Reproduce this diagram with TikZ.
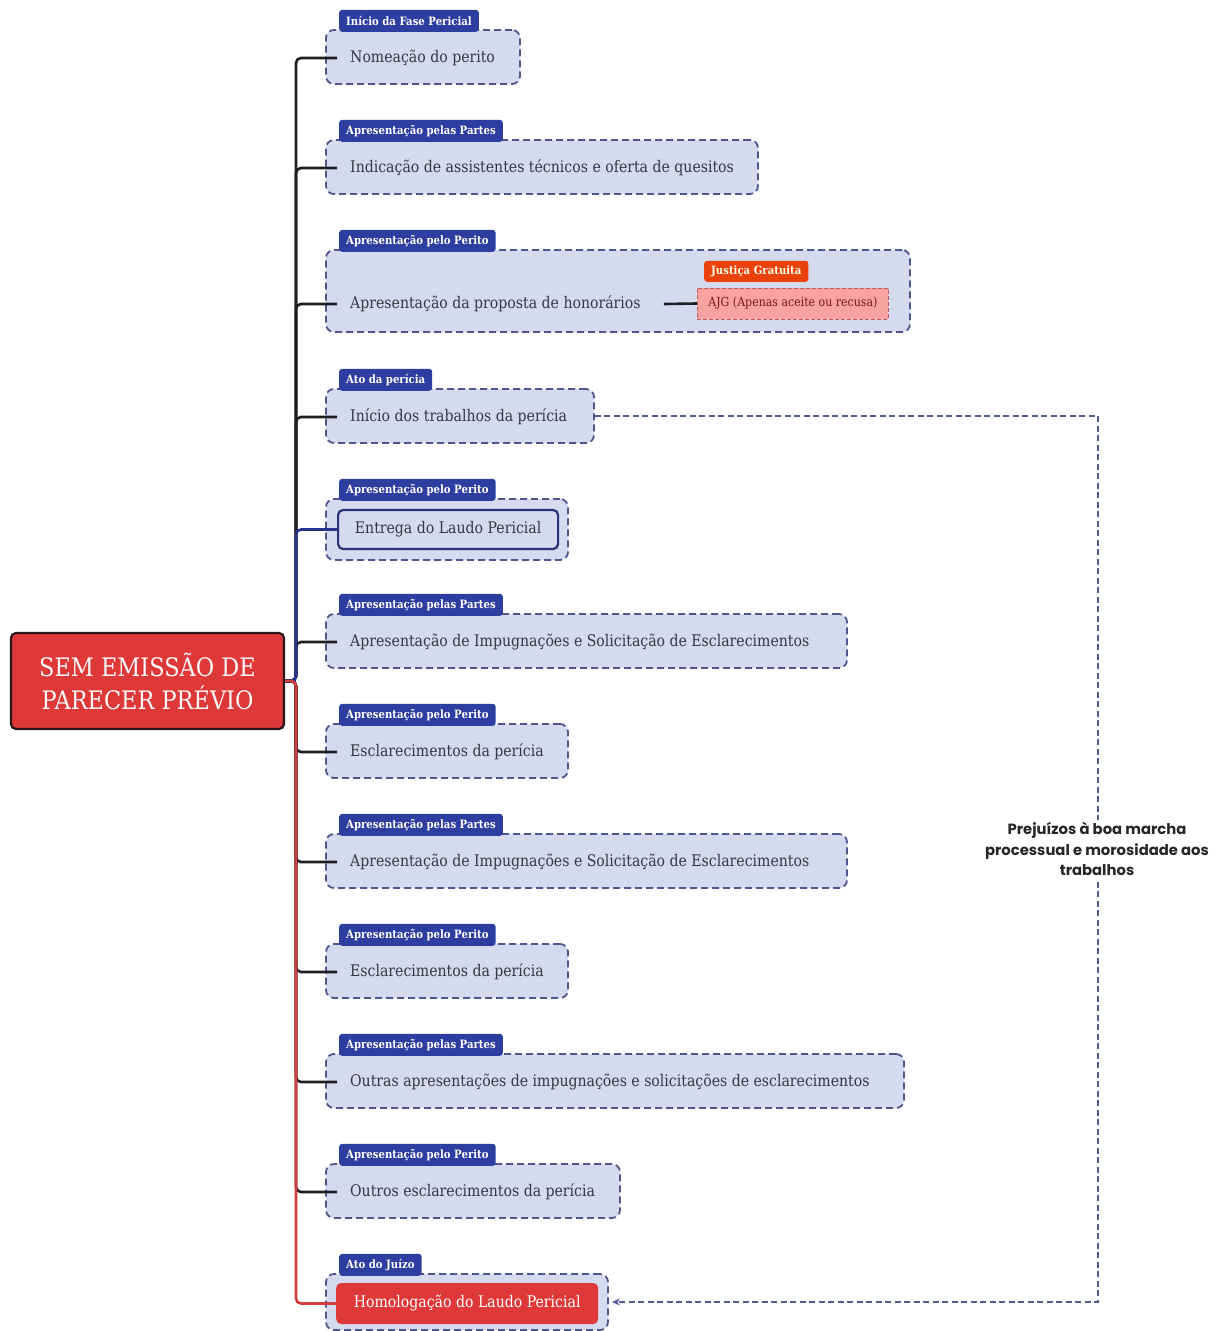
\documentclass[tikz,border=0pt]{standalone}
\usepackage{fontspec}
\setmainfont{DejaVu Serif}[FakeStretch=0.88]
\newfontfamily\popp{Poppins}
\usetikzlibrary{fit,arrows.meta}
\definecolor{boxfill}{RGB}{214,218,238}
\definecolor{boxline}{RGB}{78,86,140}
\definecolor{tagblue}{RGB}{45,62,160}
\definecolor{txtcol}{RGB}{55,55,65}
\definecolor{rootred}{RGB}{222,56,56}
\definecolor{rootborder}{RGB}{40,22,22}
\definecolor{brblack}{RGB}{30,30,34}
\definecolor{brblue}{RGB}{40,52,140}
\definecolor{brred}{RGB}{208,62,62}
\definecolor{navy}{RGB}{40,50,120}
\definecolor{jgorange}{RGB}{235,65,10}
\definecolor{ajgfill}{RGB}{248,162,162}
\definecolor{ajgline}{RGB}{190,90,90}
\definecolor{ajgtext}{RGB}{120,25,25}
\definecolor{fbline}{RGB}{80,92,150}
\newcommand\grp[7]{%
  \node[grpbox, fit={(326,#3) (#4,#5)}] (b#1) {};
  \node[tagnode] (tg#1) at (339,{#3+2}) {#2};
  \ifx&#7&\else\node[txt] (n#1) at (350,{#6+1}) {#7};\fi
}
\begin{document}
\begin{tikzpicture}[x=1pt,y=-1pt,
  grpbox/.style={draw=boxline, fill=boxfill, dash pattern=on 7pt off 4pt, line width=1.8pt, rounded corners=8pt, inner sep=0pt},
  tagnode/.style={fill=tagblue, text=white, font=\fontsize{11.5}{13}\selectfont\bfseries, rounded corners=3pt, inner xsep=7pt, inner ysep=0pt, minimum height=22pt, anchor=south west},
  txt/.style={text=txtcol, font=\fontsize{16}{18}\selectfont, inner sep=0pt, anchor=west},
  br/.style={line width=2.6pt, rounded corners=5pt, draw=brblack},
  fb/.style={draw=fbline, line width=1.8pt, dash pattern=on 6pt off 3.5pt},
]
\useasboundingbox (0,0) rectangle (1217,1331);

% groups
\grp{1}{Início da Fase Pericial}{30}{520}{84}{57}{Nomeação do perito}
\grp{2}{Apresentação pelas Partes}{140}{758}{194}{167}{Indicação de assistentes técnicos e oferta de quesitos}
\grp{3}{Apresentação pelo Perito}{250}{910}{332}{303}{Apresentação da proposta de honorários}
\grp{4}{Ato da perícia}{389}{594}{443}{416}{Início dos trabalhos da perícia}
\grp{5}{Apresentação pelo Perito}{499}{568}{560}{528}{}
\grp{6}{Apresentação pelas Partes}{614}{847}{668}{641}{Apresentação de Impugnações e Solicitação de Esclarecimentos}
\grp{7}{Apresentação pelo Perito}{724}{568}{778}{751}{Esclarecimentos da perícia}
\grp{8}{Apresentação pelas Partes}{834}{847}{888}{861}{Apresentação de Impugnações e Solicitação de Esclarecimentos}
\grp{9}{Apresentação pelo Perito}{944}{568}{998}{971}{Esclarecimentos da perícia}
\grp{10}{Apresentação pelas Partes}{1054}{904}{1108}{1081}{Outras apresentações de impugnações e solicitações de esclarecimentos}
\grp{11}{Apresentação pelo Perito}{1164}{620}{1218}{1191}{Outros esclarecimentos da perícia}
\grp{12}{Ato do Juízo}{1274}{608}{1330}{1303}{}

% inner boxes
\node[draw=navy, line width=2.2pt, fill=boxfill, rounded corners=5pt, minimum width=220pt, minimum height=39pt, anchor=west, text=txtcol, font=\fontsize{16}{18}\selectfont, inner sep=0pt] (n5) at (337,529.5) {Entrega do Laudo Pericial};
\node[fill=rootred, rounded corners=5pt, minimum width=262pt, minimum height=41pt, anchor=west, text=white, font=\fontsize{16}{18}\selectfont, inner sep=0pt] (n12) at (336,1303.5) {Homologação do Laudo Pericial};

% Justiça gratuita
\node[fill=jgorange, text=white!90!yellow, font=\fontsize{11.5}{13}\selectfont\bfseries, rounded corners=3pt, inner xsep=7pt, inner ysep=0pt, minimum height=21pt, anchor=south west] (jg) at (704,282) {Justiça Gratuita};
\node[fill=ajgfill, draw=ajgline, dash pattern=on 4pt off 2pt, line width=0.8pt, minimum width=191pt, minimum height=31pt, anchor=west, text=ajgtext, font=\fontsize{12.5}{14}\selectfont, inner sep=0pt] (ajg) at (697,303.5) {AJG (Apenas aceite ou recusa)};
\draw[line width=2.6pt, brblack] (n3.east) ++(23pt,0) -- (ajg.west);

% root
\node[fill=rootred, draw=rootborder, line width=2.2pt, rounded corners=5pt, minimum width=273pt, minimum height=96pt, align=center, text=white!85!pink, font=\fontsize{25.5}{33}\selectfont] (root) at (147.5,681) {SEM EMISSÃO DE\\PARECER PRÉVIO};

% branches
\foreach \i in {1,2,3,4,6,7,8,9,10,11}{
  \draw[br] (root.east) -- (296,681) |- ([xshift=-13pt]n\i.west);
}
\draw[br, draw=brblue] (root.east) -- (296,681) |- (n5.west);
\draw[br, draw=brred] (root.east) -- (296,681) |- (n12.west);

% feedback
\draw[fb, -{Stealth[length=8pt,width=7pt]}] (b4.east) -- (1098,416) |- ([xshift=3pt]b12.east);
\node[fill=white, inner sep=2pt, align=center, text=black!85, font=\popp\bfseries\fontsize{14.8}{20.5}\selectfont] (lab) at (1097,849) {Prejuízos à boa marcha\\processual e morosidade aos\\trabalhos};
\end{tikzpicture}
\end{document}
